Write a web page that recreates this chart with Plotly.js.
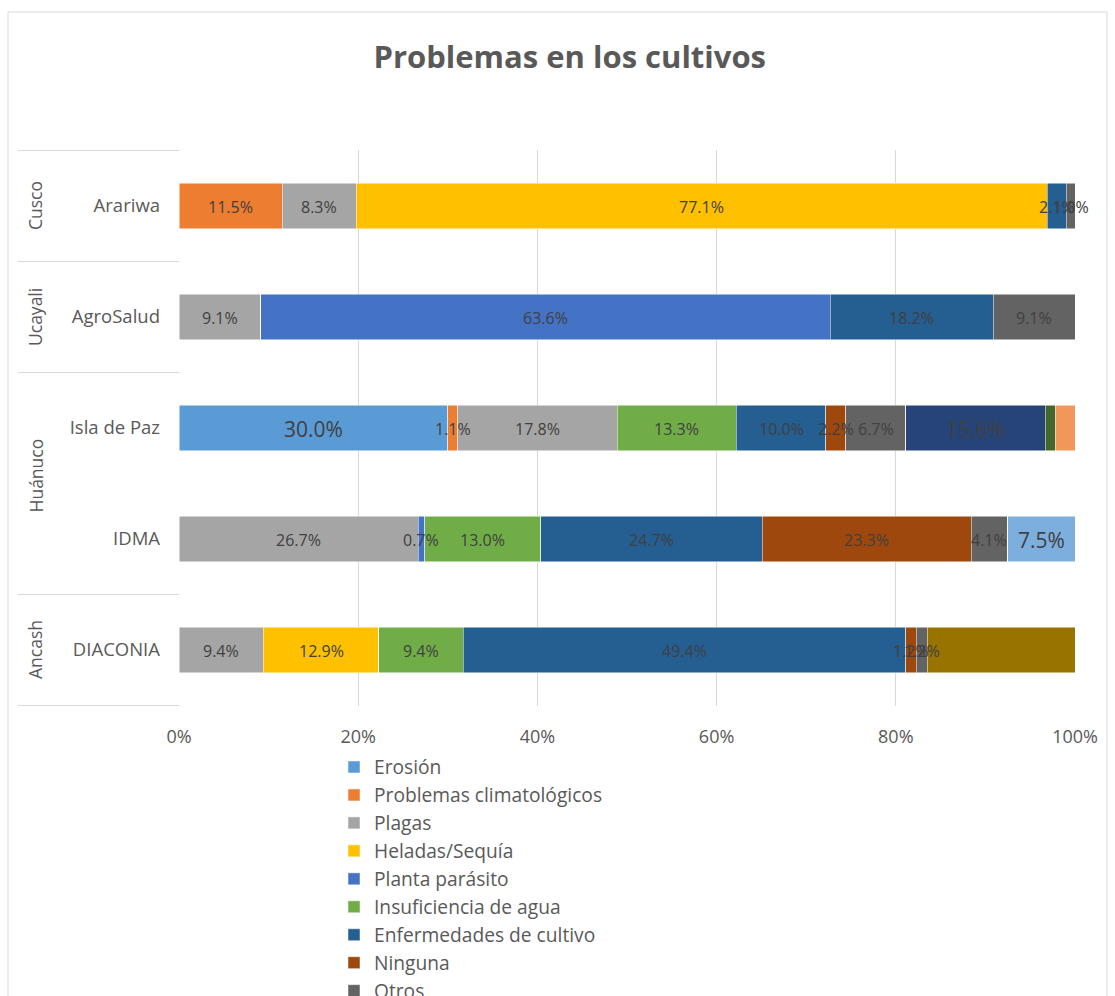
<!DOCTYPE html>
<html>
<head>
<meta charset="utf-8">
<script src="https://cdn.plot.ly/plotly-3.0.1.min.js"></script>
<style>
html,body{margin:0;padding:0;background:#fff;}
#wrap{width:1115px;height:996px;overflow:hidden;position:relative;}
#chart{width:1115px;height:1020px;}
</style>
</head>
<body>
<div id="wrap"><div id="chart"></div></div>
<script>
// Categories (bottom to top as drawn by Plotly)
const regions = ['Ancash', 'Huánuco', 'Huánuco', 'Ucayali', 'Cusco'];
const orgs = ['DIACONIA', 'IDMA', 'Isla de Paz', 'AgroSalud', 'Arariwa'];

// Series names and values (% per organisation, same order as orgs)
const seriesNames = ['Erosión', 'Problemas climatológicos', 'Plagas', 'Heladas/Sequía',
  'Planta parásito', 'Insuficiencia de agua', 'Enfermedades de cultivo', 'Ninguna', 'Otros',
  'Serie 10', 'Serie 11', 'Serie 12', 'Serie 13', 'Serie 14'];
const erosion    = [0,    0,    30.0, 0,    0];
const climat     = [0,    0,    1.1,  0,    11.5];
const plagas     = [9.4,  26.7, 17.8, 9.1,  8.3];
const heladas    = [12.9, 0,    0,    0,    77.1];
const parasito   = [0,    0.7,  0,    63.6, 0];
const insuf      = [9.4,  13.0, 13.3, 0,    0];
const enferm     = [49.4, 24.7, 10.0, 18.2, 2.1];
const ninguna    = [1.2,  23.3, 2.2,  0,    0];
const otros      = [1.2,  4.1,  6.7,  9.1,  1.0];
const serie10    = [16.5, 0,    0,    0,    0];
const serie11    = [0,    0,    15.6, 0,    0];
const serie12    = [0,    0,    1.1,  0,    0];
const serie13    = [0,    7.5,  0,    0,    0];
const serie14    = [0,    0,    2.2,  0,    0];
const seriesValues = [erosion, climat, plagas, heladas, parasito, insuf, enferm, ninguna, otros,
  serie10, serie11, serie12, serie13, serie14];

const colors = ['#5B9BD5', '#ED7D31', '#A5A5A5', '#FFC000', '#4472C4', '#70AD47', '#255E91',
  '#9E480E', '#636363', '#997300', '#264478', '#43682B', '#7CAFDD', '#F1975A'];

// Label display options
const inLegend   = [true, true, true, true, true, true, true, true, true, false, false, false, false, false];
const showLabels = [true, true, true, true, true, true, true, true, true, false, true, false, true, false];
const bigLabels  = [true, false, false, false, false, false, false, false, false, false, true, false, true, false];

const FONT = '"Open Sans", Lato, sans-serif';
const GREY = '#595959';

const traces = seriesNames.map((name, s) => ({
  type: 'bar',
  orientation: 'h',
  name: name,
  y: orgs,
  x: seriesValues[s],
  marker: {color: colors[s], line: {color: '#ffffff', width: 0.5}},
  showlegend: inLegend[s],
  hovertemplate: '%{y}: %{x:.1f}%<extra>' + name + '</extra>'
}));

const annotations = [];
const shapes = [];

// Data labels drawn on top of all bars, centred in each stacked segment
orgs.forEach((org, i) => {
  let cum = 0;
  seriesValues.forEach((vals, s) => {
    const v = vals[i];
    if (v > 0 && showLabels[s]) {
      annotations.push({
        xref: 'x', yref: 'y', x: cum + v / 2, y: org, text: v.toFixed(1) + '%',
        showarrow: false, xanchor: 'center', yanchor: 'middle', yshift: -1,
        font: {family: FONT, color: '#404040', size: bigLabels[s] ? 21 : 16}
      });
    }
    cum += v;
  });
});

// Layout geometry
const W = 1115, H = 1020;
const plotL = 179, plotR = 1075, plotT = 150, plotB = 706;
const pw = plotR - plotL, ph = plotB - plotT;
const px2x = p => (p - plotL) / pw;
const py2y = p => (plotB - p) / ph;

// Group labels and dividers derived from regions
const groups = [];
regions.forEach((r, i) => {
  if (i === 0 || regions[i - 1] !== r) groups.push({name: r, start: i, end: i});
  else groups[groups.length - 1].end = i;
});
groups.forEach(g => {
  annotations.push({
    xref: 'paper', yref: 'y', x: px2x(35), y: (g.start + g.end) / 2,
    text: g.name, textangle: -90, showarrow: false,
    font: {family: FONT, size: 17.5, color: GREY}, xanchor: 'center', yanchor: 'middle',
    yshift: g.end > g.start ? 8 : 0
  });
  shapes.push({type: 'line', xref: 'paper', yref: 'y', x0: px2x(18), x1: 0,
    y0: g.start - 0.5, y1: g.start - 0.5, line: {color: '#d9d9d9', width: 1}});
});
shapes.push({type: 'line', xref: 'paper', yref: 'y', x0: px2x(18), x1: 0,
  y0: regions.length - 0.5, y1: regions.length - 0.5, line: {color: '#d9d9d9', width: 1}});
// Outer chart border
shapes.push({type: 'rect', xref: 'paper', yref: 'paper', x0: px2x(8), x1: px2x(1107),
  y0: py2y(1015), y1: py2y(12), line: {color: '#d9d9d9', width: 1}, fillcolor: 'rgba(0,0,0,0)'});

const layout = {
  width: W, height: H,
  paper_bgcolor: '#ffffff', plot_bgcolor: '#ffffff',
  barmode: 'stack',
  bargap: 0.59,
  margin: {l: plotL, r: W - plotR, t: plotT, b: H - plotB, autoexpand: false},
  title: {text: '<b>Problemas en los cultivos</b>', font: {family: FONT, size: 31, color: GREY},
    x: 0.511, xref: 'container', xanchor: 'center', y: 1 - 57 / H, yref: 'container', yanchor: 'middle'},
  xaxis: {range: [0, 100], dtick: 20, tick0: 0, ticksuffix: '%', showgrid: true, gridcolor: '#d9d9d9',
    zeroline: false, showline: false, ticks: '', ticklabelstandoff: 18,
    tickfont: {family: FONT, size: 18, color: GREY}, fixedrange: true},
  yaxis: {type: 'category', categoryorder: 'array', categoryarray: orgs, showgrid: false,
    zeroline: false, showline: false, ticks: '', ticklabelstandoff: 18,
    tickfont: {family: FONT, size: 18.5, color: GREY}, fixedrange: true},
  legend: {x: px2x(334), y: py2y(748), xanchor: 'left', yanchor: 'top', orientation: 'v',
    traceorder: 'normal', font: {family: FONT, size: 19.2, color: GREY}, bgcolor: 'rgba(0,0,0,0)'},
  annotations: annotations,
  shapes: shapes,
  showlegend: true
};

Plotly.newPlot('chart', traces, layout, {displayModeBar: false});
</script>
</body>
</html>
